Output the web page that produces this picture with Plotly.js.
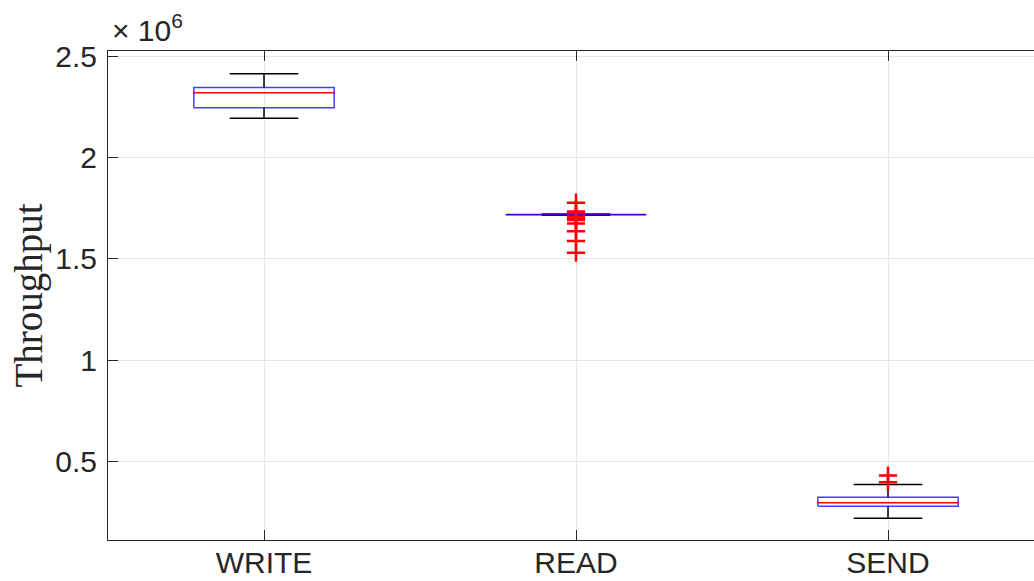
<!DOCTYPE html>
<html>
<head>
<meta charset="utf-8">
<script src="https://cdn.plot.ly/plotly-3.0.1.min.js"></script>
<style>
html, body { margin: 0; padding: 0; overflow: hidden; background: #fff; }
#chart { width: 1060px; height: 581px; }
</style>
</head>
<body>
<div id="chart"></div>
<script>
// ---- data ----
const categories = ['WRITE', 'READ', 'SEND'];
const upperWhisker = [2416000, 1722500, 385000];
const q3 = [2347000, 1720500, 322000];
const medians = [2322000, 1719000, 294000];
const q1 = [2248000, 1718000, 277000];
const lowerWhisker = [2195000, 1715500, 218000];
const outlierGroup = ['READ', 'READ', 'READ', 'READ', 'READ', 'READ', 'READ', 'READ', 'READ', 'READ', 'SEND', 'SEND'];
const outlierValues = [1778000, 1734000, 1728000, 1710000, 1700000, 1692000, 1675000, 1637000, 1588000, 1531000, 429000, 396000];
const yTickVals = [500000, 1000000, 1500000, 2000000, 2500000];
const yTickText = ['0.5', '1', '1.5', '2', '2.5'];

// ---- style ----
const BOX_HALF = 0.225;
const CAP_HALF = 0.11;
const TEXT = '#262626';

const pos = categories.map((c, i) => i + 1);
const traces = [];

// whiskers (vertical)
{
  const x = [], y = [];
  pos.forEach((p, i) => {
    x.push(p, p, null, p, p, null);
    y.push(q3[i], upperWhisker[i], null, q1[i], lowerWhisker[i], null);
  });
  traces.push({type: 'scatter', mode: 'lines', x, y, line: {color: '#000', width: 1.5}, hoverinfo: 'skip', showlegend: false});
}
// whisker caps
{
  const x = [], y = [];
  pos.forEach((p, i) => {
    x.push(p - CAP_HALF, p + CAP_HALF, null, p - CAP_HALF, p + CAP_HALF, null);
    y.push(upperWhisker[i], upperWhisker[i], null, lowerWhisker[i], lowerWhisker[i], null);
  });
  traces.push({type: 'scatter', mode: 'lines', x, y, line: {color: '#000', width: 1.5}, hoverinfo: 'skip', showlegend: false});
}
// medians
{
  const x = [], y = [];
  pos.forEach((p, i) => {
    x.push(p - BOX_HALF, p + BOX_HALF, null);
    y.push(medians[i], medians[i], null);
  });
  traces.push({type: 'scatter', mode: 'lines', x, y, line: {color: '#ff0000', width: 1.5}, hoverinfo: 'skip', showlegend: false});
}
// boxes
{
  const x = [], y = [];
  pos.forEach((p, i) => {
    x.push(p - BOX_HALF, p + BOX_HALF, p + BOX_HALF, p - BOX_HALF, p - BOX_HALF, null);
    y.push(q1[i], q1[i], q3[i], q3[i], q1[i], null);
  });
  traces.push({type: 'scatter', mode: 'lines', x, y, line: {color: 'rgba(0,0,255,0.75)', width: 1.5}, hoverinfo: 'skip', showlegend: false});
}
// outliers
traces.push({
  type: 'scatter', mode: 'markers',
  x: outlierGroup.map(g => categories.indexOf(g) + 1),
  y: outlierValues,
  marker: {symbol: 'cross-thin', size: 13, color: '#ff0000', line: {color: '#ff0000', width: 2.5}},
  showlegend: false
});

const layout = {
  width: 1060, height: 581,
  margin: {l: 108, r: 16, t: 51, b: 41},
  paper_bgcolor: '#fff', plot_bgcolor: '#fff',
  showlegend: false,
  font: {family: '"Liberation Sans", Arial, Helvetica, sans-serif', color: TEXT, size: 30},
  xaxis: {
    range: [0.5, 3.5],
    tickvals: pos, ticktext: categories,
    showgrid: true, gridcolor: '#e6e6e6', gridwidth: 1,
    zeroline: false,
    showline: true, linecolor: '#262626', linewidth: 1, mirror: 'ticks',
    ticks: 'inside', ticklen: 10, tickcolor: '#262626', tickwidth: 1,
    tickfont: {size: 30, color: TEXT},
    ticklabelstandoff: -4
  },
  yaxis: {
    range: [110000, 2528000],
    tickvals: yTickVals, ticktext: yTickText,
    showgrid: true, gridcolor: '#e6e6e6', gridwidth: 1,
    zeroline: false,
    showline: true, linecolor: '#262626', linewidth: 1, mirror: 'ticks',
    ticks: 'inside', ticklen: 10, tickcolor: '#262626', tickwidth: 1,
    tickfont: {size: 30, color: TEXT},
    ticklabelstandoff: 4,
    title: {text: 'Throughput', font: {family: '"Liberation Serif", "Times New Roman", serif', size: 39, color: TEXT}, standoff: 0}
  },
  annotations: [{
    xref: 'paper', yref: 'paper', x: 0.002, y: 1, xanchor: 'left', yanchor: 'bottom',
    yshift: 2, showarrow: false,
    text: '× 10<sup>6</sup>',
    font: {size: 30, color: TEXT}
  }]
};

Plotly.newPlot('chart', traces, layout, {displayModeBar: false, staticPlot: true});
</script>
</body>
</html>
